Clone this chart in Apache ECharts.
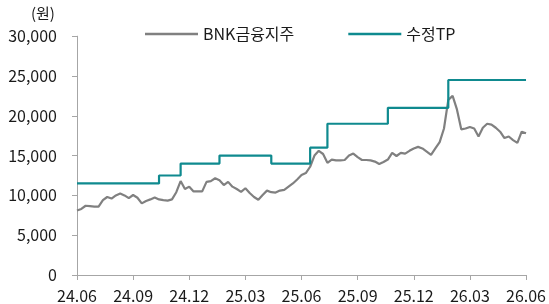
<!DOCTYPE html>
<html>
<head>
<meta charset="utf-8">
<script src="https://cdn.jsdelivr.net/npm/echarts@6/dist/echarts.min.js"></script>
<style>
  html, body { margin: 0; padding: 0; background: #fff; }
  #chart { width: 549px; height: 304px; }
</style>
</head>
<body>
<div id="chart"></div>
<script>
// 주간 종가 (24.06.03 ~ 26.06.01, 105주)
var weekStart = '2024-06-03';
var stockName = 'BNK금융지주';
var tpName = '수정TP';
var tickLabels = ['24.06', '24.09', '24.12', '25.03', '25.06', '25.09', '25.12', '26.03', '26.06'];

var stockPrice = [
  8100, 8300, 8700, 8650, 8600, 8600, 9400, 9800, 9600, 10000,
  10250, 10000, 9650, 10050, 9700, 9000, 9300, 9500, 9750, 9500,
  9400, 9350, 9500, 10400, 11800, 10800, 11100, 10500, 10500, 10500,
  11700, 11800, 12150, 11900, 11300, 11700, 11100, 10800, 10450, 10900,
  10300, 9800, 9450, 10050, 10600, 10400, 10350, 10600, 10700, 11100,
  11500, 12000, 12550, 12800, 13600, 15000, 15600, 15200, 14100, 14500,
  14400, 14400, 14450, 15000, 15250, 14800, 14450, 14450, 14400, 14250,
  13950, 14200, 14500, 15350, 14950, 15350, 15250, 15600, 15900, 16100,
  15900, 15500, 15100, 15900, 16700, 18400, 22000, 22500, 20800, 18300,
  18400, 18600, 18400, 17400, 18500, 19000, 18900, 18500, 18000, 17200,
  17400, 16950, 16600, 18000, 17800
];

// 목표주가 변경 시점 (주 번호) 과 값
var tpWeek  = [0, 19, 24, 33, 45, 54, 58, 72, 86, 104];
var tpValue = [11500, 12500, 14000, 15000, 14000, 16000, 19000, 21000, 24500, 24500];

// 주간 날짜 카테고리
var categories = [];
(function(){
    var d = new Date(weekStart + 'T00:00:00Z');
    for (var i = 0; i < stockPrice.length; i++) {
        var t = new Date(d.getTime() + i * 7 * 86400000);
        var yy = String(t.getUTCFullYear()).slice(2);
        var mm = ('0' + (t.getUTCMonth() + 1)).slice(-2);
        var dd = ('0' + t.getUTCDate()).slice(-2);
        categories.push(yy + '.' + mm + '.' + dd);
    }
})();

var tpData = [];
for (var i = 0; i < tpWeek.length; i++) {
    tpData.push([tpWeek[i], tpValue[i]]);
}

var font = '"Noto Sans CJK KR", "Noto Sans", sans-serif';
var axisColor = '#a6a6a6';

var myChart = echarts.init(document.getElementById('chart'));
var option = {
    animation: false,
    grid: { left: 77, right: 21.5, top: 36.2, bottom: 29 },
    legend: {
        left: 140,
        top: 21,
        icon: 'rect',
        itemWidth: 53,
        itemHeight: 2.5,
        itemGap: 54,
        textStyle: { fontFamily: font, fontSize: 16, color: '#1a1a1a' },
        data: [stockName, tpName]
    },
    graphic: [{
        type: 'text',
        left: 31,
        top: 6,
        style: { text: '(원)', font: '15px ' + font, fill: '#1a1a1a' }
    }],
    xAxis: {
        type: 'category',
        boundaryGap: false,
        data: categories,
        axisLine: { lineStyle: { color: axisColor, width: 1 } },
        axisTick: { interval: 12, length: 5, lineStyle: { color: axisColor } },
        axisLabel: {
            interval: 12,
            margin: 13,
            fontFamily: font,
            fontSize: 16,
            color: '#1a1a1a',
            formatter: function (v, idx) { return tickLabels[Math.round(idx / 13)]; }
        },
        splitLine: { show: false }
    },
    yAxis: {
        type: 'value',
        min: 0,
        max: 30000,
        interval: 5000,
        axisLine: { show: true, lineStyle: { color: axisColor, width: 1 } },
        axisTick: { show: true, length: 5, lineStyle: { color: axisColor } },
        axisLabel: {
            margin: 20,
            fontFamily: font,
            fontSize: 16,
            color: '#1a1a1a',
            formatter: function (v) { return v.toLocaleString('en-US'); }
        },
        splitLine: { show: false }
    },
    series: [
        {
            name: stockName,
            type: 'line',
            data: stockPrice,
            symbol: 'none',
            lineStyle: { color: '#808080', width: 2.2 },
            itemStyle: { color: '#808080' },
            z: 2
        },
        {
            name: tpName,
            type: 'line',
            data: tpData,
            step: 'end',
            symbol: 'none',
            lineStyle: { color: '#0f8a8f', width: 2.2 },
            itemStyle: { color: '#0f8a8f' },
            z: 3
        }
    ]
};
myChart.setOption(option);
</script>
</body>
</html>
